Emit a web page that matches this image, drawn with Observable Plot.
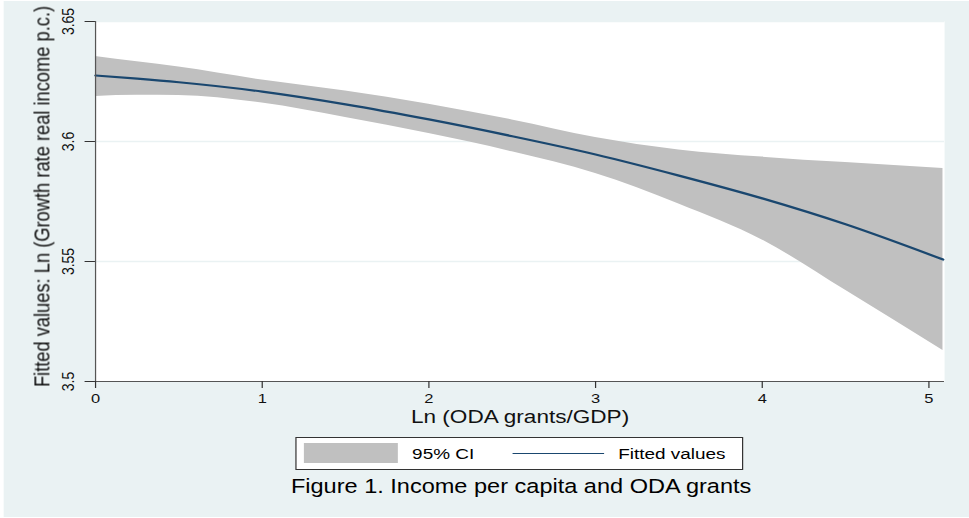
<!DOCTYPE html>
<html>
<head>
<meta charset="utf-8">
<script src="https://cdn.jsdelivr.net/npm/d3@7"></script>
<script src="https://cdn.jsdelivr.net/npm/@observablehq/plot@0.6"></script>
<style>
  html, body { margin: 0; padding: 0; background: #ffffff; overflow: hidden; }
  #fig { position: relative; width: 794px; height: 518px; transform: scaleX(1.2204); transform-origin: 0 0;
         font-family: "Liberation Sans", Arial, Helvetica, sans-serif; color: #000; }
  #bg { position: absolute; left: 2.5px; top: 1px; width: 791px; height: 516px; background: #eaf2f3; }
  #plot { position: absolute; left: 0; top: 0; }
  .abs { position: absolute; line-height: 1; white-space: nowrap; }
</style>
</head>
<body>
<div id="fig">
  <div id="bg"></div>
  <div id="plot"></div>
</div>
<script>
// ---- data ----
const xVals  = [0, 0.25, 0.5, 1, 1.5, 2, 2.5, 3, 3.5, 4, 4.5, 5.085];
const fitted = [3.6275, 3.6262, 3.6247, 3.6208, 3.6155, 3.6092, 3.6022, 3.5946, 3.5858, 3.5763, 3.5655, 3.5508];
const upper  = [3.6354, 3.6332, 3.6310, 3.6256, 3.6210, 3.6155, 3.6090, 3.6017, 3.5965, 3.5935, 3.5912, 3.5888];
const lower  = [3.6188, 3.6193, 3.6192, 3.6160, 3.6100, 3.6033, 3.5957, 3.5867, 3.5740, 3.5590, 3.5380, 3.5129];
const xTicks = [0, 1, 2, 3, 4, 5];
const xTickLabels = ["0", "1", "2", "3", "4", "5"];
const yTicks = [3.5, 3.55, 3.6, 3.65];
const yTickLabels = ["3.5", "3.55", "3.6", "3.65"];
const gridVals = [3.55, 3.6, 3.65];
const xTitle = "Ln (ODA grants/GDP)";
const yTitle = "Fitted values: Ln (Growth rate real income p.c.)";
const legendLabels = ["95% CI", "Fitted values"];
const caption = "Figure 1. Income per capita and ODA grants";

const rows = xVals.map((x, i) => ({x, fit: fitted[i], lo: lower[i], hi: upper[i]}));

const FONT = "\"Liberation Sans\", Arial, Helvetica, sans-serif";
const chart = Plot.plot({
  width: 794, height: 518,
  marginLeft: 77.8, marginRight: 20.5, marginTop: 21, marginBottom: 137,
  x: {domain: [0, 5.094]},
  y: {domain: [3.5, 3.65]},
  style: {background: "transparent", fontFamily: FONT, color: "#222"},
  marks: [
    Plot.frame({fill: "white", stroke: null}),
    Plot.ruleY(gridVals, {stroke: "#eaf2f3", strokeWidth: 1.5}),
    Plot.areaY(rows, {x: "x", y1: "lo", y2: "hi", fill: "#c0c0c0", curve: "monotone-x"}),
    Plot.line(rows, {x: "x", y: "fit", stroke: "#1a476f", strokeWidth: 2.2, curve: "monotone-x"}),
    Plot.ruleX([0], {stroke: "#555", strokeWidth: 1}),
    Plot.ruleY([3.5], {stroke: "#555", strokeWidth: 1}),
    Plot.axisX({ticks: xTicks, tickSize: 7, tickPadding: 5, fontSize: 13.5, label: null, stroke: "#333",
                fill: "#111", tickFormat: (d, i) => xTickLabels[xTicks.indexOf(d)]}),
    Plot.axisY({ticks: yTicks, tickSize: 8.5, tickFormat: () => "", label: null, stroke: "#333"}),
    Plot.text(yTicks, {y: d => d, text: (d, i) => yTickLabels[i], frameAnchor: "left", textAnchor: "middle",
                       dx: -22, rotate: -90, fontSize: 14, fill: "#111"}),
    Plot.text([yTitle], {text: d => d, frameAnchor: "left", textAnchor: "middle", dx: -44, dy: -5,
                         rotate: -90, fontSize: 18.3, fill: "#111"}),
    Plot.text([xTitle], {text: d => d, frameAnchor: "bottom", dy: 41, fontSize: 18.5, fill: "#111"})
  ]
});
document.getElementById("plot").appendChild(chart);

// ---- legend & caption (HTML, below the plot area) ----
const fig = document.getElementById("fig");
function add(style, text) {
  const d = document.createElement("div");
  d.className = "abs";
  Object.assign(d.style, style);
  if (text != null) d.textContent = text;
  fig.appendChild(d);
  return d;
}
add({left: "241.8px", top: "437px", width: "367px", height: "33px", boxSizing: "border-box",
     border: "1px solid #333", background: "#fff"});
add({left: "249.2px", top: "443px", width: "77px", height: "20px", background: "#c0c0c0"});
add({left: "337.7px", top: "446.3px", fontSize: "15.5px"}, legendLabels[0]);
add({left: "419.7px", top: "453px", width: "75.4px", height: "0", borderTop: "1.8px solid #1a476f"});
add({left: "506.6px", top: "446.3px", fontSize: "15.5px"}, legendLabels[1]);
add({left: "127px", width: "600px", textAlign: "center", top: "476.9px", fontSize: "19.3px"}, caption);
</script>
</body>
</html>
